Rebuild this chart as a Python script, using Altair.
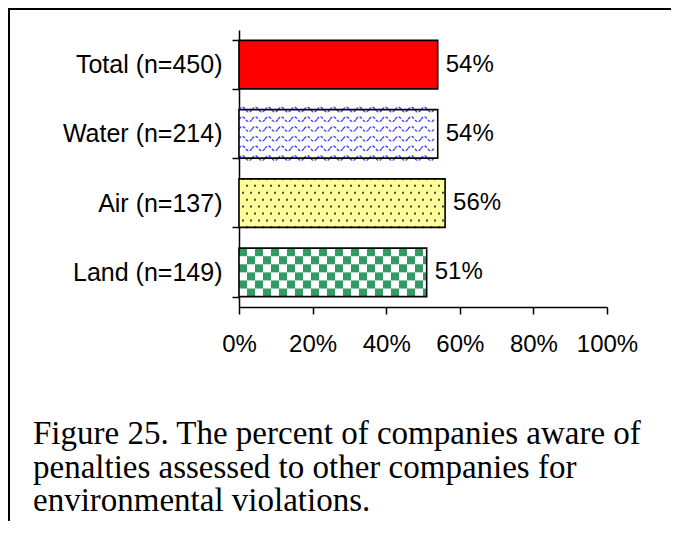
import altair as alt
import pandas as pd

# ---- data ----
categories = ["Total (n=450)", "Water (n=214)", "Air (n=137)", "Land (n=149)"]
values = [54, 54, 56, 51]
x_ticks = [0, 20, 40, 60, 80, 100]
caption_lines = [
    "Figure 25. The percent of companies aware of",
    "penalties assessed to other companies for",
    "environmental violations.",
]

# ---- styles ----
fills = ["#FF0000", "#FFFFFF", "#FFFF99", "#FFFFFF"]
FONT = "Liberation Sans"
W, H = 368, 277
PAD = {"left": 231, "top": 22, "right": 64, "bottom": 214}
PX = 100.0 / W  # percent per pixel

df = pd.DataFrame({"category": categories, "value": values})

y_axis = alt.Axis(title=None, labelFont=FONT, labelFontSize=25, labelColor="black",
                  labelPadding=10, tickSize=7, tickColor="black", tickWidth=1.5,
                  domainColor="black", domainWidth=1.5, tickBand="extent")
x_axis = alt.Axis(title=None, values=x_ticks, labelExpr="datum.value + '%'",
                  labelFont=FONT, labelFontSize=24, labelColor="black",
                  labelOverlap=False, labelBound=False, labelFlush=False,
                  labelPadding=18, tickSize=7, tickColor="black", tickWidth=1.5,
                  domainColor="black", domainWidth=1.5, grid=False)
y_scale = alt.Scale(paddingInner=0.3, paddingOuter=0.15)
x_scale = alt.Scale(domain=[0, 100])


def Y():
    return alt.Y("category:N", sort=categories, scale=y_scale, axis=y_axis)


def X(field):
    return alt.X(field, scale=x_scale, axis=x_axis)


base = alt.Chart(df)

bars = base.mark_bar(strokeWidth=0).encode(
    y=Y(), x=X("value:Q"),
    color=alt.Color("category:N", scale=alt.Scale(domain=categories, range=fills), legend=None),
)

# checkerboard (Land)
cell = 8 * PX
checker = (
    base.transform_filter(alt.datum.category == categories[3])
    .transform_calculate(cols=f"sequence(0, ceil(datum.value / {cell}))", rows="sequence(0, 6)")
    .transform_flatten(["cols"])
    .transform_flatten(["rows"])
    .transform_filter("(datum.cols + datum.rows) % 2 == 0")
    .transform_calculate(x1=f"datum.cols * {cell}", x2=f"min((datum.cols + 1) * {cell}, datum.value)")
    .mark_rect(color="#339966")
    .encode(y=Y(), x=X("x1:Q"), x2="x2:Q",
            yOffset=alt.YOffset("rows:O", scale=alt.Scale(paddingInner=0, paddingOuter=0)))
)

# dots (Air)
dstep = 8 * PX
dots = (
    base.transform_filter(alt.datum.category == categories[2])
    .transform_calculate(cols=f"sequence(0, ceil(datum.value / {dstep}))", rows="sequence(0, 8)")
    .transform_flatten(["cols"])
    .transform_flatten(["rows"])
    .transform_calculate(xd=f"(datum.cols + 0.5 * (datum.rows % 2) + 0.5) * {dstep}")
    .transform_filter(f"datum.xd < datum.value - {2 * PX}")
    .mark_square(color="#444444", size=4, opacity=1)
    .encode(y=Y(), x=X("xd:Q"),
            yOffset=alt.YOffset("rows:O", scale=alt.Scale(paddingInner=0, paddingOuter=0)))
)

# waves (Water)
period = 13 * PX
wave_path = "M-1,0 C-0.67,-0.5 -0.33,-0.5 0,0 C0.33,0.5 0.67,0.5 1,0"
waves = (
    base.transform_filter(alt.datum.category == categories[1])
    .transform_calculate(cols=f"sequence(0, ceil(datum.value / {period}))", rows="sequence(0, 6)")
    .transform_flatten(["cols"])
    .transform_flatten(["rows"])
    .transform_calculate(xw=f"(datum.cols + 0.5) * {period}")
    .transform_filter(f"datum.xw + {period / 2} <= datum.value + 0.01")
    .mark_point(shape=wave_path, size=169, filled=False, color="#3b3bff", strokeWidth=1.3,
                strokeDash=[3, 1.5], opacity=1)
    .encode(y=Y(), x=X("xw:Q"),
            yOffset=alt.YOffset("rows:O", scale=alt.Scale(paddingInner=0, paddingOuter=0)))
)

outline = base.mark_bar(fillOpacity=0, stroke="black", strokeWidth=1.6).encode(y=Y(), x=X("value:Q"))

labels = base.mark_text(align="left", baseline="middle", dx=8, font=FONT, fontSize=24,
                        color="black").encode(y=Y(), x=X("value:Q"),
                                              text=alt.Text("label:N")).transform_calculate(
    label="datum.value + '%'")

cap_df = pd.DataFrame({"caption": ["\n".join(caption_lines)]})
caption = alt.Chart(cap_df).mark_text(
    align="left", baseline="alphabetic", font="Liberation Serif", fontSize=33,
    lineBreak="\n", lineHeight=33.5, color="black",
).encode(text="caption:N", x=alt.value(-206), y=alt.value(414))

frame_df = pd.DataFrame({"k": [0]})
left_border = alt.Chart(frame_df).mark_rule(color="black", strokeWidth=2).encode(
    x=alt.value(-230), y=alt.value(-21), y2=alt.value(H + PAD["bottom"]))
top_border = alt.Chart(frame_df).mark_rule(color="black", strokeWidth=2).encode(
    x=alt.value(-231), x2=alt.value(W + PAD["right"]), y=alt.value(-21))

chart = alt.layer(
    bars, checker, dots, waves, outline, labels, caption, left_border, top_border
).resolve_scale(yOffset="independent").properties(
    width=W, height=H,
    background="white",
    autosize=alt.AutoSizeParams(type="none"),
    padding=PAD,
).configure_view(stroke=None)

chart.save("out.html", embed_options={"renderer": "svg", "actions": False})
